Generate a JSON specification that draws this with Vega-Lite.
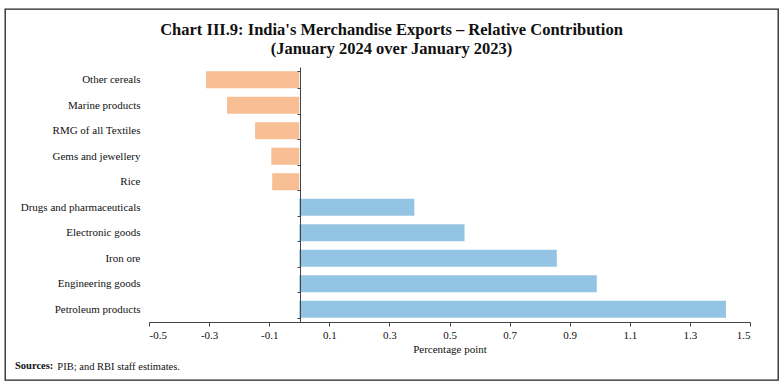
{
  "$schema": "https://vega.github.io/schema/vega-lite/v6.json",
  "autosize": {"type": "pad"},
  "padding": {"left": 4, "top": 2, "right": 6, "bottom": 7},
  "title": {
    "text": ["Chart III.9: India's Merchandise Exports – Relative Contribution", "(January 2024 over January 2023)"],
    "font": "Liberation Serif",
    "fontSize": 16.5,
    "fontWeight": "bold",
    "lineHeight": 19,
    "color": "#111",
    "anchor": "middle",
    "offset": -55
  },
  "vconcat": [
    {
      "title": {
        "text": "PIB; and RBI staff estimates.",
        "orient": "bottom",
        "anchor": "start",
        "font": "Liberation Serif",
        "fontSize": 10.5,
        "fontWeight": "normal",
        "color": "#111",
        "dx": 53,
        "offset": -19
      },
      "vconcat": [
        {
          "title": {
            "text": "Sources:",
            "orient": "bottom",
            "anchor": "start",
            "font": "Liberation Serif",
            "fontSize": 10.5,
            "fontWeight": "bold",
            "color": "#111",
            "dx": 10,
            "offset": -19
          },
          "width": 773,
          "height": 371,
          "data": {
            "values": [
              {"item": "Other cereals", "value": -0.31},
              {"item": "Marine products", "value": -0.24},
              {"item": "RMG of all Textiles", "value": -0.147},
              {"item": "Gems and jewellery", "value": -0.093},
              {"item": "Rice", "value": -0.09},
              {"item": "Drugs and pharmaceuticals", "value": 0.383},
              {"item": "Electronic goods", "value": 0.55},
              {"item": "Iron ore", "value": 0.857},
              {"item": "Engineering goods", "value": 0.99},
              {"item": "Petroleum products", "value": 1.42}
            ]
          },
          "mark": {"type": "bar"},
          "encoding": {
            "y": {
              "field": "item",
              "type": "nominal",
              "sort": null,
              "scale": {"range": [58, 313], "paddingInner": 0.33, "paddingOuter": 0.165},
              "axis": {
                "title": null,
                "orient": "left",
                "offset": -295,
                "tickBand": "extent",
                "tickSize": 3,
                "labelPadding": 157,
                "labelFont": "Liberation Serif",
                "labelFontSize": 11,
                "labelColor": "#111",
                "domainColor": "#444",
                "tickColor": "#444",
                "domainWidth": 1,
                "grid": false,
                "zindex": 1
              }
            },
            "x": {
              "field": "value",
              "type": "quantitative",
              "scale": {"domain": [-0.5, 1.5], "range": [144, 745], "nice": false, "zero": false},
              "axis": {
                "title": "Percentage point",
                "orient": "bottom",
                "offset": -58,
                "values": [-0.5, -0.3, -0.1, 0.1, 0.3, 0.5, 0.7, 0.9, 1.1, 1.3, 1.5],
                "labelExpr": "datum.value < 0 ? '-' + format(-datum.value, '.1f') : format(datum.value, '.1f')",
                "tickSize": 4,
                "labelPadding": 3,
                "titlePadding": 3,
                "labelFont": "Liberation Serif",
                "labelFontSize": 11,
                "labelColor": "#111",
                "titleFont": "Liberation Serif",
                "titleFontSize": 11,
                "titleFontWeight": "normal",
                "titleColor": "#111",
                "domainColor": "#444",
                "tickColor": "#444",
                "domainWidth": 1,
                "grid": false,
                "zindex": 1
              }
            },
            "color": {
              "condition": {"test": "datum.value < 0", "value": "#F8BE94"},
              "value": "#93C4E4"
            }
          }
        }
      ]
    }
  ],
  "config": {
    "view": {"stroke": "#222", "strokeWidth": 1.3},
    "concat": {"spacing": 0}
  }
}
